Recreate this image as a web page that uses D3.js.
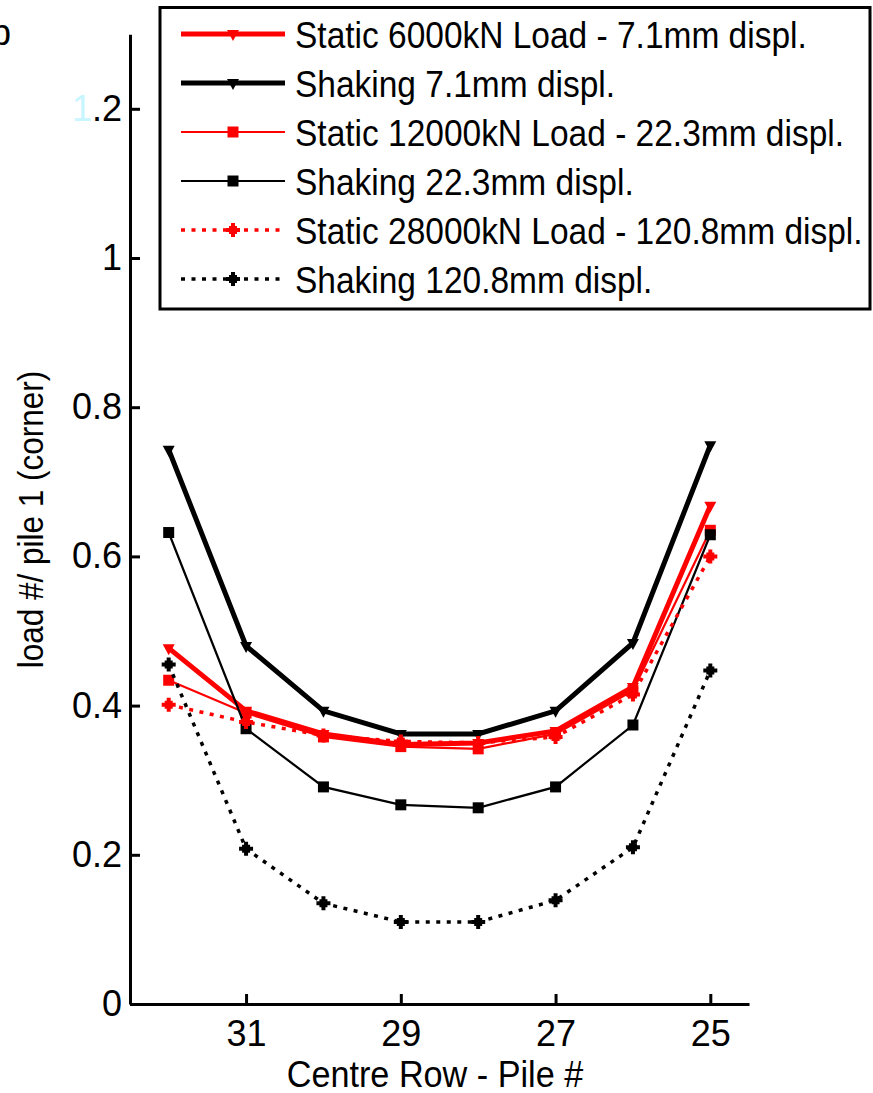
<!DOCTYPE html>
<html><head><meta charset="utf-8">
<script src="https://cdn.jsdelivr.net/npm/d3@7"></script>
<style>
body{margin:0;background:#fff}
text{font-family:"Liberation Sans",Arial,sans-serif;fill:#000}
</style>
</head><body>
<svg id="c" width="873" height="1093"></svg>
<script>
// ---- data ----
const piles = [32, 31, 30, 29, 28, 27, 26, 25];
const static6000 = [0.477, 0.393, 0.362, 0.348, 0.350, 0.366, 0.425, 0.668];
const shaking71 = [0.743, 0.480, 0.393, 0.362, 0.362, 0.393, 0.484, 0.749];
const static12000 = [0.434, 0.390, 0.358, 0.345, 0.342, 0.362, 0.420, 0.635];
const shaking223 = [0.632, 0.369, 0.291, 0.267, 0.263, 0.291, 0.374, 0.629];
const static28000 = [0.401, 0.378, 0.360, 0.352, 0.350, 0.358, 0.415, 0.600];
const shaking1208 = [0.455, 0.208, 0.135, 0.110, 0.110, 0.139, 0.210, 0.447];
const seriesNames = [
  "Static 6000kN Load - 7.1mm displ.",
  "Shaking 7.1mm displ.",
  "Static 12000kN Load - 22.3mm displ.",
  "Shaking 22.3mm displ.",
  "Static 28000kN Load - 120.8mm displ.",
  "Shaking 120.8mm displ."
];
const xTicks = [31, 29, 27, 25];
const yTicks = [0, 0.2, 0.4, 0.6, 0.8, 1, 1.2];
const yTickLabels = ["0", "0.2", "0.4", "0.6", "0.8", "1", "1.2"];
const xLabel = "Centre Row - Pile #";
const yLabel = "load #/ pile 1 (corner)";
const panelLetter = "b";

// ---- styles ----
const styles = [
  {color: "#ff0000", width: 5, dash: null, marker: "v"},
  {color: "#000000", width: 5, dash: null, marker: "v"},
  {color: "#ff0000", width: 2.2, dash: null, marker: "s"},
  {color: "#000000", width: 2.2, dash: null, marker: "s"},
  {color: "#ff0000", width: 3.5, dash: "4,6.5", marker: "*"},
  {color: "#000000", width: 3.5, dash: "4,6.5", marker: "*"}
];
const seriesValues = [static6000, shaking71, static12000, shaking223, static28000, shaking1208];

const svg = d3.select("#c");
const x = d3.scaleLinear().domain([32.5, 24.5]).range([130, 749]);
const y = d3.scaleLinear().domain([0, 1.3]).range([1004, 34.2]);

function markerPath(type) {
  if (type === "v") return "M-6,-4L6,-4L0,7Z";
  if (type === "s") return "M-5.5,-5.5H5.5V5.5H-5.5Z";
  return "M-2,-7H2V-2H7V2H2V7H-2V2H-7V-2H-2Z M-4,-4H4V4H-4Z";
}

function condense(sel, f) {
  sel.each(function () {
    const w = this.getComputedTextLength();
    d3.select(this).attr("textLength", w * f).attr("lengthAdjust", "spacingAndGlyphs");
  });
}

// ---- axes ----
const yAxis = d3.axisLeft(y).tickValues(yTicks)
  .tickFormat((d, i) => yTickLabels[i]).tickSizeInner(-10).tickSizeOuter(0).tickPadding(8);
const gy = svg.append("g").attr("transform", "translate(130,0)").call(yAxis);
const xAxis = d3.axisBottom(x).tickValues(xTicks)
  .tickFormat(d => String(d)).tickSizeInner(-10).tickSizeOuter(0).tickPadding(16);
const gx = svg.append("g").attr("transform", "translate(0,1004)").call(xAxis);

[gx, gy].forEach(g => {
  g.select(".domain").attr("stroke", "#000").attr("stroke-width", 3);
  g.selectAll(".tick line").attr("stroke", "#000").attr("stroke-width", 3);
  g.selectAll(".tick text").attr("font-size", 36).attr("font-family", "Liberation Sans, Arial, sans-serif").attr("fill", "#000");
});
gy.selectAll(".tick text").filter(d => d === 1.2).each(function () {
  const t = d3.select(this); t.text("");
  t.append("tspan").attr("fill", "#c8f6ff").text("1");
  t.append("tspan").text(".2");
});

// axis labels
svg.append("text").attr("x", 435).attr("y", 1087).attr("text-anchor", "middle")
  .attr("font-size", 36).text(xLabel).call(condense, 0.95);
svg.append("text").attr("transform", "translate(43,519.5) rotate(-90)")
  .attr("text-anchor", "middle").attr("font-size", 35).text(yLabel).call(condense, 0.9);
svg.append("text").attr("x", -9).attr("y", 45).attr("font-size", 36).text(panelLetter);

// ---- series ----
const line = d3.line().x((d, i) => x(piles[i])).y(d => y(d));
seriesValues.forEach((vals, k) => {
  const st = styles[k];
  const g = svg.append("g");
  g.append("path").datum(vals).attr("d", line).attr("fill", "none")
    .attr("stroke", st.color).attr("stroke-width", st.width)
    .attr("stroke-dasharray", st.dash).attr("stroke-linejoin", "miter");
  g.selectAll("path.m").data(vals).join("path").attr("class", "m")
    .attr("transform", (d, i) => `translate(${x(piles[i])},${y(d)})`)
    .attr("d", markerPath(st.marker)).attr("fill", st.color);
});

// ---- legend ----
const lg = svg.append("g");
lg.append("rect").attr("x", 160).attr("y", 7.5).attr("width", 710).attr("height", 301.5)
  .attr("fill", "#fff").attr("stroke", "#000").attr("stroke-width", 3);
seriesNames.forEach((name, k) => {
  const st = styles[k];
  const ry = 34 + k * 49;
  lg.append("line").attr("x1", 181).attr("x2", 285).attr("y1", ry).attr("y2", ry)
    .attr("stroke", st.color).attr("stroke-width", st.width).attr("stroke-dasharray", st.dash);
  lg.append("path").attr("transform", `translate(233,${ry})`).attr("d", markerPath(st.marker)).attr("fill", st.color);
  lg.append("text").attr("x", 295).attr("y", ry + 14).attr("font-size", 36).text(name).call(condense, 0.93);
});
</script>
</body></html>
